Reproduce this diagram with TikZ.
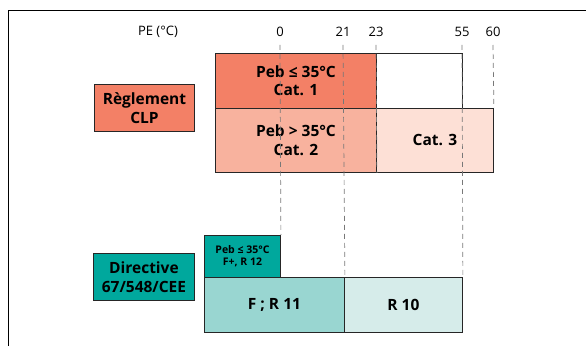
\documentclass[tikz,border=0pt]{standalone}
\usepackage{fontspec}
\setmainfont{Open Sans}
\definecolor{salmon}{RGB}{243,128,102}
\definecolor{salmonmid}{RGB}{248,178,158}
\definecolor{salmonlight}{RGB}{253,224,214}
\definecolor{teal}{RGB}{0,168,157}
\definecolor{tealmid}{RGB}{153,214,209}
\definecolor{teallight}{RGB}{214,236,234}
\definecolor{guidegray}{RGB}{120,120,120}
\tikzset{
  box/.style={draw=black!85, line width=0.9pt, anchor=north west, inner sep=0pt, align=center, font=\fontsize{15.5}{18.5}\selectfont\bfseries},
  smallbox/.style={box, font=\fontsize{10.5}{12}\selectfont\bfseries},
  tick/.style={font=\fontsize{13}{15}\selectfont, inner sep=1pt},
  guide/.style={draw=guidegray, dashed, dash pattern=on 5pt off 4pt, line width=0.7pt},
}
\begin{document}
\begin{tikzpicture}[x=1pt,y=-1pt]
\useasboundingbox (0,0) rectangle (586,347);
% frame
\coordinate (fb) at (8,346);
\coordinate (fc) at (8,10);
\coordinate (fr) at (586,10);
\draw[line width=0.9pt] (fb) -- (fc) -- (fr);
% header
\node[tick] (pe) at (158,32) {PE (°C)};
\node[tick] (t0) at (280,32) {0};
\node[tick] (t21) at (343,32) {21};
\node[tick] (t23) at (376,32) {23};
\node[tick] (t55) at (462,32) {55};
\node[tick] (t60) at (493,32) {60};
% CLP
\node[box, fill=salmon, minimum width=100pt, minimum height=47pt] (clp) at (94,84) {Règlement\\CLP};
\node[box, fill=salmon, minimum width=161pt, minimum height=55pt] (cat1) at (215,53) {Peb ≤ 35°C\\Cat. 1};
\node[box, fill=white, minimum width=86pt, minimum height=55pt] (blank) at (376,53) {};
\node[box, fill=salmonmid, minimum width=161pt, minimum height=64pt] (cat2) at (215,108) {Peb > 35°C\\Cat. 2};
\node[box, fill=salmonlight, minimum width=117pt, minimum height=64pt] (cat3) at (376,108) {Cat. 3};
% Directive
\node[box, fill=teal, minimum width=101pt, minimum height=47pt] (dir) at (93,253) {Directive\\67/548/CEE};
\node[smallbox, fill=teal, minimum width=76pt, minimum height=42pt] (fp) at (204,235) {Peb ≤ 35°C\\F+, R 12};
\node[box, fill=tealmid, minimum width=140pt, minimum height=55pt] (f) at (204,277) {F ; R 11};
\node[box, fill=teallight, minimum width=118pt, minimum height=55pt] (r10) at (344,277) {R 10};
% guides
\coordinate (g0) at (280,45);
\coordinate (g21) at (343,45);
\coordinate (g23) at (376,45);
\coordinate (g55) at (462,45);
\coordinate (g60) at (493,45);
\draw[guide] (g0) -- (fp.north east);
\draw[guide] (g21) -- (f.north east);
\draw[guide] (g23) -- (cat2.south east);
\draw[guide] (g55) -- (r10.north east);
\draw[guide] (g60) -- (cat3.north east);
\end{tikzpicture}
\end{document}
